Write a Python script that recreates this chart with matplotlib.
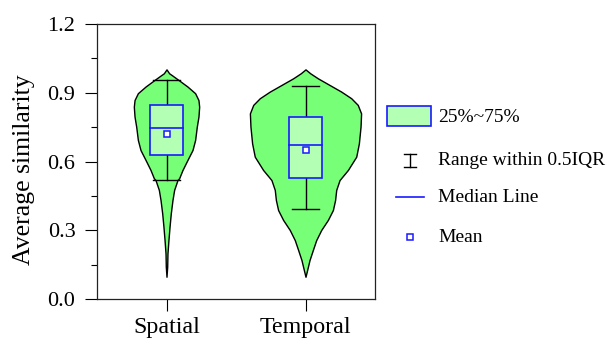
import matplotlib
matplotlib.use("Agg")
import matplotlib.pyplot as plt
from matplotlib.patches import Rectangle
from matplotlib.ticker import MultipleLocator, FormatStrFormatter

plt.rcParams['font.family'] = ['Liberation Serif', 'DejaVu Serif']

categories = ["Spatial", "Temporal"]
positions = [1, 2]

# violin outlines: y level and half width (x units)
spatial_y = [1.002, 0.985, 0.977, 0.956, 0.927, 0.898, 0.868, 0.839, 0.796, 0.752,
             0.694, 0.650, 0.607, 0.563, 0.527, 0.519, 0.476, 0.432, 0.374, 0.316,
             0.257, 0.199, 0.141, 0.097]
spatial_hw = [0.0, 0.019, 0.038, 0.086, 0.151, 0.206, 0.230, 0.235, 0.230, 0.218,
              0.206, 0.187, 0.151, 0.115, 0.091, 0.079, 0.055, 0.043, 0.031, 0.022,
              0.014, 0.007, 0.005, 0.0]

temporal_y = [1.002, 0.985, 0.963, 0.934, 0.905, 0.876, 0.847, 0.810, 0.752, 0.679,
              0.621, 0.563, 0.519, 0.476, 0.432, 0.388, 0.345, 0.301, 0.257, 0.214,
              0.170, 0.127, 0.097]
temporal_hw = [0.0, 0.034, 0.089, 0.173, 0.257, 0.329, 0.376, 0.400, 0.396, 0.384,
               0.365, 0.305, 0.245, 0.221, 0.213, 0.197, 0.161, 0.113, 0.077, 0.053,
               0.029, 0.012, 0.0]

q1 = [0.628, 0.527]
median = [0.745, 0.672]
q3 = [0.847, 0.796]
mean = [0.721, 0.652]
whisk_lo = [0.519, 0.391]
whisk_hi = [0.954, 0.931]

violin_green = '#78ff78'
box_green = '#b3ffb3'
blue = '#1a1aff'

fig = plt.figure(figsize=(6.07, 3.47), dpi=100)
W, H = 607, 347
ax = fig.add_axes([97 / W, (H - 299) / H, 278 / W, 275 / H])

profiles = [(spatial_y, spatial_hw), (temporal_y, temporal_hw)]
for i, (ys, hws) in enumerate(profiles):
    c = positions[i]
    left = [c - h for h in hws]
    right = [c + h for h in hws]
    ax.fill_betweenx(ys, left, right, facecolor=violin_green, edgecolor='black',
                     linewidth=1.0, zorder=1)

    # whiskers
    ax.plot([c, c], [whisk_lo[i], whisk_hi[i]], color='black', lw=1.0, zorder=2)
    for w in (whisk_lo[i], whisk_hi[i]):
        ax.plot([c - 0.097, c + 0.097], [w, w], color='black', lw=1.0, zorder=2)

    # box + median + mean
    ax.add_patch(Rectangle((c - 0.12, q1[i]), 0.24, q3[i] - q1[i], facecolor=box_green,
                           edgecolor=blue, lw=1.2, zorder=3))
    ax.plot([c - 0.12, c + 0.12], [median[i], median[i]], color=blue, lw=1.2, zorder=4)
    ax.plot([c], [mean[i]], marker='s', ms=5, mfc='white', mec=blue, mew=1.1, zorder=5)

ax.set_xlim(0.5, 2.5)
ax.set_ylim(0, 1.2)
ax.set_xticks(positions)
ax.set_xticklabels(categories)
ax.yaxis.set_major_locator(MultipleLocator(0.3))
ax.yaxis.set_minor_locator(MultipleLocator(0.15))
ax.yaxis.set_major_formatter(FormatStrFormatter('%.1f'))
ax.tick_params(axis='both', which='major', direction='out', length=8.5, width=0.8)
ax.tick_params(axis='x', labelsize=17.3, pad=4.5)
ax.tick_params(axis='y', labelsize=16, pad=7)
ax.tick_params(axis='y', which='minor', direction='out', length=4.5, width=0.8)
ax.tick_params(axis='x', which='minor', bottom=False)
for s in ax.spines.values():
    s.set_linewidth(0.9)
    s.set_color('#222222')
ax.set_ylabel("Average similarity", fontsize=18.5)
ax.yaxis.set_label_coords(-0.223, 0.469)

# legend drawn by hand in pixel coordinates
lg = fig.add_axes([0, 0, 1, 1])
lg.set_xlim(0, W)
lg.set_ylim(H, 0)
lg.axis('off')
legend_labels = ["25%~75%", "Range within 0.5IQR", "Median Line", "Mean"]
legend_y = [117, 160, 197, 237]
lg.add_patch(Rectangle((387, 105.5), 44, 20.5, facecolor=box_green, edgecolor=blue, lw=1.2))
lg.plot([410, 410], [154, 167], color='black', lw=1.0)
lg.plot([404, 416], [154, 154], color='black', lw=1.0)
lg.plot([404, 416], [167, 167], color='black', lw=1.0)
lg.plot([396, 424], [legend_y[2], legend_y[2]], color=blue, lw=1.2)
lg.plot([410], [legend_y[3]], marker='s', ms=4.5, mfc='white', mec=blue, mew=1.1)
for lab, y in zip(legend_labels, legend_y):
    lg.text(438, y, lab, fontsize=14, va='center', ha='left')

fig.savefig("out.png", dpi=100)
